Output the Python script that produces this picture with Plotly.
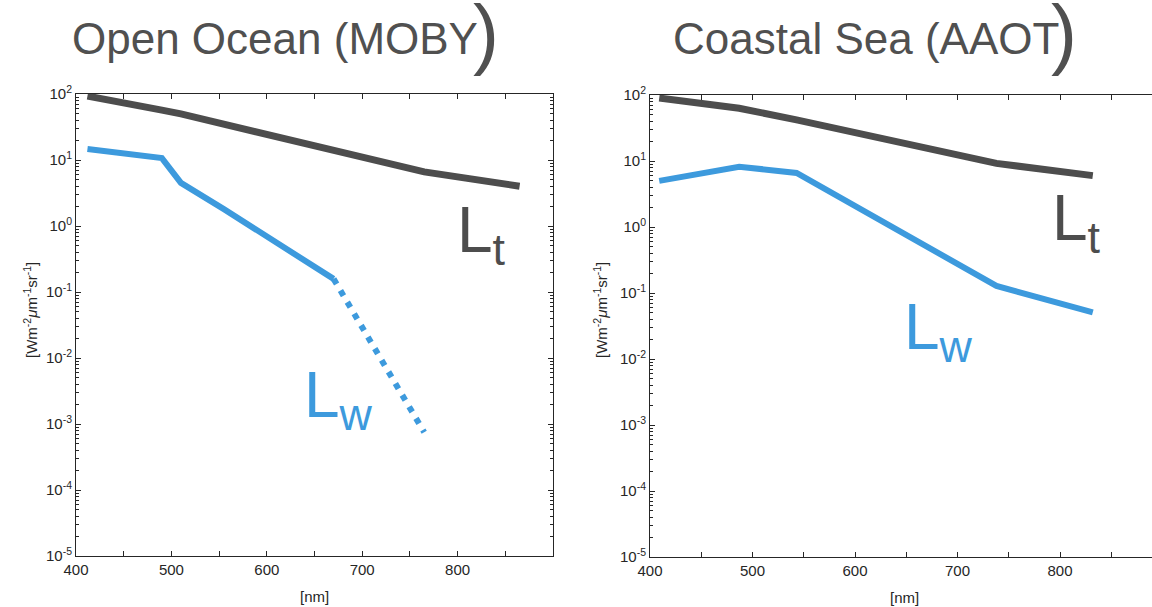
import plotly.graph_objects as go

W, H = 1152, 607

# ---- data ----
wl_open = [412, 443, 490, 510, 555, 670, 765, 865]
lt_open = [93, 78, 57, 50, 35, 13.5, 6.6, 4.0]
wl_open_lw = [412, 443, 490, 510, 555, 670]
lw_open = [14.7, 12.8, 10.7, 4.5, 1.8, 0.158]
wl_open_lw_ext = [670, 765]
lw_open_ext = [0.158, 7.5e-4]

wl_coast = [409, 487, 543, 738, 832]
lt_coast = [90, 63, 42, 9.2, 6.0]
lw_coast = [5.0, 8.2, 6.6, 0.128, 0.051]

x_ticks = [400, 450, 500, 550, 600, 650, 700, 750, 800, 850]
x_ticktext = ["400", "", "500", "", "600", "", "700", "", "800", ""]
y_ticks = [1e-5, 1e-4, 1e-3, 1e-2, 1e-1, 1e0, 1e1, 1e2]
y_ticktext = ["10<sup>-5</sup>", "10<sup>-4</sup>", "10<sup>-3</sup>", "10<sup>-2</sup>",
              "10<sup>-1</sup>", "10<sup>0</sup>", "10<sup>1</sup>", "10<sup>2</sup>"]
y_minor = [k * 10.0 ** n for n in range(-5, 2) for k in range(2, 10)]

DARK = "#4d4d4d"
BLUE = "#3d9add"
AX = "#262626"
FONT = "Liberation Sans, Arial, sans-serif"

def fx(x):
    return x / W

def fy(y):
    return 1 - y / H

fig = go.Figure()

fig.add_trace(go.Scatter(x=wl_open, y=lt_open, mode="lines", line=dict(color=DARK, width=7),
                         xaxis="x", yaxis="y", showlegend=False))
fig.add_trace(go.Scatter(x=wl_open_lw, y=lw_open, mode="lines", line=dict(color=BLUE, width=6),
                         xaxis="x", yaxis="y", showlegend=False))
fig.add_trace(go.Scatter(x=wl_open_lw_ext, y=lw_open_ext, mode="lines",
                         line=dict(color=BLUE, width=6, dash="6px,7.5px"),
                         xaxis="x", yaxis="y", showlegend=False))
fig.add_trace(go.Scatter(x=wl_coast, y=lt_coast, mode="lines", line=dict(color=DARK, width=7),
                         xaxis="x2", yaxis="y2", showlegend=False))
fig.add_trace(go.Scatter(x=wl_coast, y=lw_coast, mode="lines", line=dict(color=BLUE, width=6),
                         xaxis="x2", yaxis="y2", showlegend=False))

tickfont = dict(family=FONT, size=15, color=AX)

def xaxis(domain, rng, anchor):
    return dict(domain=domain, range=rng, anchor=anchor, showgrid=False, zeroline=False,
                automargin=False,
                showline=True, linecolor=AX, linewidth=1, mirror="ticks",
                ticks="inside", ticklen=5, tickcolor=AX, tickwidth=1,
                tickmode="array", tickvals=x_ticks, ticktext=x_ticktext,
                tickfont=tickfont)

def yaxis(domain, anchor, mirror):
    return dict(domain=domain, type="log", range=[-5, 2], anchor=anchor, showgrid=False,
                zeroline=False, automargin=False,
                showline=True, linecolor=AX, linewidth=1, mirror=mirror,
                ticks="inside", ticklen=5, tickcolor=AX, tickwidth=1,
                tickmode="array", tickvals=y_ticks, ticktext=y_ticktext,
                tickfont=tickfont,
                minor=dict(tickmode="array", tickvals=y_minor, ticks="inside",
                           ticklen=3, tickcolor=AX, tickwidth=1, showgrid=False))

fig.update_layout(
    width=W, height=H,
    margin=dict(l=0, r=0, t=0, b=0, autoexpand=False),
    paper_bgcolor="white", plot_bgcolor="white",
    xaxis=xaxis([fx(76), fx(553)], [400, 900], "y"),
    yaxis=yaxis([fy(556), fy(94)], "x", "ticks"),
    xaxis2=xaxis([fx(650), 1.0], [400, 400 + (W - 650) / 1.025], "y2"),
    yaxis2=yaxis([fy(557), fy(95)], "x2", False),
)

ann = []
TITLE = "#505050"
# titles
ann.append(dict(text="Open Ocean (MOBY", x=fx(70), y=fy(38), xanchor="left", yanchor="middle",
                font=dict(family=FONT, size=44, color=TITLE)))
ann.append(dict(text=")", x=fx(471), y=fy(33), xanchor="left", yanchor="middle",
                font=dict(family=FONT, size=78, color=TITLE)))
ann.append(dict(text="Coastal Sea (AAOT", x=fx(671), y=fy(38), xanchor="left", yanchor="middle",
                font=dict(family=FONT, size=44, color=TITLE)))
ann.append(dict(text=")", x=fx(1049), y=fy(33), xanchor="left", yanchor="middle",
                font=dict(family=FONT, size=78, color=TITLE)))
# curve labels
ann.append(dict(text="L<sub>t</sub>", x=fx(455), y=fy(234), xanchor="left", yanchor="middle",
                font=dict(family=FONT, size=64, color=DARK)))
ann.append(dict(text="L<sub>w</sub>", x=fx(302), y=fy(399), xanchor="left", yanchor="middle",
                font=dict(family=FONT, size=64, color=BLUE)))
ann.append(dict(text="L<sub>t</sub>", x=fx(1050), y=fy(222), xanchor="left", yanchor="middle",
                font=dict(family=FONT, size=64, color=DARK)))
ann.append(dict(text="L<sub>w</sub>", x=fx(902), y=fy(331), xanchor="left", yanchor="middle",
                font=dict(family=FONT, size=64, color=BLUE)))
# axis titles
ylab = "[Wm<sup>-2</sup><i>\u03bc</i>m<sup>-1</sup>sr<sup>-1</sup>]"
ann.append(dict(text=ylab, x=fx(30), y=fy(310), xanchor="center", yanchor="middle", textangle=-90,
                font=dict(family=FONT, size=15, color=AX)))
ann.append(dict(text=ylab, x=fx(600), y=fy(310), xanchor="center", yanchor="middle", textangle=-90,
                font=dict(family=FONT, size=15, color=AX)))
ann.append(dict(text="[nm]", x=fx(314), y=fy(596), xanchor="center", yanchor="middle",
                font=dict(family=FONT, size=15, color=AX)))
ann.append(dict(text="[nm]", x=fx(904), y=fy(597), xanchor="center", yanchor="middle",
                font=dict(family=FONT, size=15, color=AX)))

for a in ann:
    a.update(xref="paper", yref="paper", showarrow=False)
fig.update_layout(annotations=ann)

fig.write_html("out.html")
